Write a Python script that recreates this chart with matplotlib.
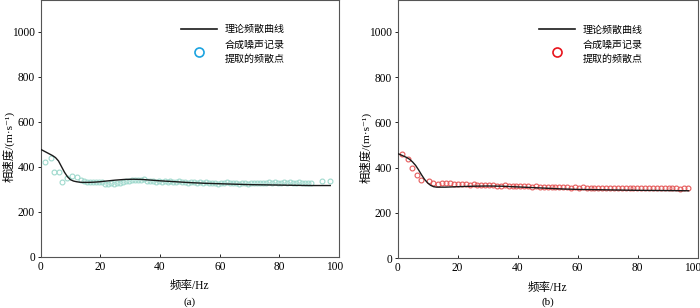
import numpy as np
import matplotlib
matplotlib.use("Agg")
import matplotlib.pyplot as plt
import matplotlib.transforms as mtransforms
from matplotlib.lines import Line2D

plt.rcParams['font.family'] = ['Liberation Serif', 'Noto Sans CJK SC', 'DejaVu Serif']

# ---- panel (a): theoretical curve ----
line_f_a = [0, 1, 2, 3, 4, 5, 6, 7, 8, 9, 10, 11, 12, 13, 14, 16, 18, 20, 22, 25,
            28, 31, 34, 37, 40, 45, 50, 55, 60, 65, 70, 75, 80, 85, 90, 97]
line_v_a = [477, 470, 463, 456, 449, 440, 425, 400, 375, 355, 342, 336, 333, 331, 330,
            330, 331, 333, 336, 340, 343, 344, 343, 340, 337, 333, 329, 326, 324, 322,
            320, 319, 318, 317, 316, 316]

# ---- panel (a): extracted points ----
pts_f_a = [1.5, 3.5, 4.5, 6.2, 7.0, 8.7, 10.6, 12.3,
           13.5, 14.5, 15.5, 16.5, 17.5, 18.5, 19.5, 20.5,
           21.5, 22.5, 23.5, 24.5, 25.5, 26.5, 27.5,
           28.5, 29.5, 30.5, 31.5, 32.5, 33.5, 34.5, 35.5, 36.5,
           37.5, 38.5, 39.5, 40.5, 41.5, 42.5, 43.5, 44.5, 45.5, 46.5, 47.5, 48.5, 49.5, 50.5,
           51.5, 52.5, 53.5, 54.5, 55.5, 56.5, 57.5, 58.5, 59.5, 60.5,
           61.5, 62.5, 63.5, 64.5, 65.5, 66.5, 67.5, 68.5, 69.5, 70.5,
           71.5, 72.5, 73.5, 74.5, 75.5, 76.5, 77.5, 78.5, 79.5, 80.5,
           81.5, 82.5, 83.5, 84.5, 85.5, 86.5, 87.5, 88.5, 89.5, 90.5,
           94.4, 96.9]
pts_v_a = [422, 437, 375, 375, 333, 348, 360, 356,
           340, 336, 333, 331, 332, 330, 333, 331,
           325, 324, 327, 323, 326, 328, 330,
           335, 338, 340, 342, 341, 340, 343, 338, 336,
           334, 333, 336, 332, 334, 331, 335, 333, 330, 334, 331, 332, 329, 333,
           330, 328, 331, 327, 330, 326, 329, 328, 325, 329,
           327, 330, 326, 328, 327, 325, 329, 326, 324, 327,
           326, 328, 327, 329, 326, 330, 328, 331, 327, 329,
           330, 328, 331, 327, 329, 330, 328, 326, 329, 328,
           338, 337]

# ---- panel (b): theoretical curve ----
line_f_b = [0, 1, 2, 3, 4, 5, 6, 7, 8, 9, 10, 11, 12, 13, 14, 16, 18, 20, 25, 30,
            35, 40, 45, 50, 55, 60, 70, 80, 90, 97]
line_v_b = [462, 457, 451, 445, 437, 425, 410, 390, 368, 348, 333, 322, 316, 314, 314,
            314, 315, 316, 318, 319, 318, 315, 312, 309, 306, 304, 302, 300, 299, 298]

# ---- panel (b): extracted points ----
pts_f_b = [1.5, 3.5, 4.9, 6.3, 7.7, 10.5, 11.9, 13.6, 14.9, 16.2,
           17.5, 18.8, 20.1, 21.4, 22.7, 24.0, 25.3, 26.6, 27.9, 29.2,
           30.5, 31.8, 33.1, 34.4, 35.7, 37.0, 38.3, 39.6, 40.9, 42.2,
           43.5, 44.8, 46.1, 47.4, 48.7, 50.0, 51.3, 52.6, 53.9, 55.2,
           56.5, 57.8, 59.1, 60.4, 61.7, 63.0, 64.3, 65.6, 66.9, 68.2,
           69.5, 70.8, 72.1, 73.4, 74.7, 76.0, 77.3, 78.6, 79.9, 81.2,
           82.5, 83.8, 85.1, 86.4, 87.7, 89.0, 90.3, 91.6, 92.9, 94.2,
           95.5, 96.8]
pts_v_b = [459, 440, 400, 366, 344, 341, 333, 329, 333, 333,
           331, 330, 329, 327, 326, 325, 326, 324, 325, 323,
           322, 323, 321, 320, 322, 319, 320, 318, 319, 317,
           318, 316, 317, 315, 316, 315, 314, 315, 313, 314,
           313, 312, 314, 312, 313, 311, 312, 311, 312, 311,
           310, 311, 310, 311, 310, 310, 311, 310, 310, 309,
           310, 310, 309, 310, 309, 310, 309, 310, 309, 308,
           309, 309]

line_label = '理论频散曲线'
pts_label = '合成噪声记录\n提取的频散点'

fig = plt.figure(figsize=(7, 3.08), dpi=100)
ax_a = fig.add_axes([0.058, 0.1666, 0.4266, 0.8334])
ax_b = fig.add_axes([0.568, 0.1614, 0.4286, 0.8386])

panels = [
    (ax_a, line_f_a, line_v_a, pts_f_a, pts_v_a, '#9fd9cd', '#1ba3e0', '(a)'),
    (ax_b, line_f_b, line_v_b, pts_f_b, pts_v_b, '#e65a5a', '#e8141c', '(b)'),
]

for ax, lf, lv, pf, pv, pcol, lgcol, tag in panels:
    ax.plot(pf, pv, 'o', ms=3.5, mfc='none', mec=pcol, mew=0.8, zorder=2)
    ax.plot(lf, lv, '-', color='#1a1a1a', lw=1.0, zorder=3)
    ax.set_xlim(0, 100)
    ax.set_ylim(0, 1140)
    ax.set_xticks([0, 20, 40, 60, 80, 100])
    ax.set_yticks([0, 200, 400, 600, 800, 1000])
    ax.tick_params(axis='y', direction='out', length=2.5, width=0.6, labelsize=8.3, pad=1.5)
    ax.tick_params(axis='x', direction='in', length=2.0, width=0.6, labelsize=8.3, pad=3)
    # last x label sits a bit left of its tick, as in the source figure
    last = ax.get_xticklabels()[-1]
    last.set_transform(last.get_transform() +
                       mtransforms.ScaledTranslation(-5 / 100, 0, fig.dpi_scale_trans))
    for sp in ax.spines.values():
        sp.set_color('#555555')
        sp.set_linewidth(0.8)
    ax.set_xlabel('频率/Hz', fontsize=8.3, labelpad=5.5)
    ax.set_ylabel('相速度/(m·s⁻¹)', fontsize=8.2)
    ax.yaxis.set_label_coords(-0.088, 0.43)

    handles = [Line2D([], [], color='#1a1a1a', lw=1.2),
               Line2D([], [], ls='none', marker='o', ms=6.5, mfc='none', mec=lgcol, mew=1.2)]
    leg = ax.legend(handles, [line_label, pts_label], loc='upper left',
                    bbox_to_anchor=(0.44, 0.94), frameon=False,
                    handlelength=3.6, handletextpad=0.8, labelspacing=0.5,
                    prop={'family': ['Noto Sans CJK SC'], 'size': 7.2})
    for t in leg.get_texts():
        t.set_linespacing(1.6)

    pos = ax.get_position()
    fig.text(pos.x0 + pos.width / 2, 0.003, tag, ha='center', va='bottom', fontsize=8)

fig.savefig('out.png', dpi=100)
